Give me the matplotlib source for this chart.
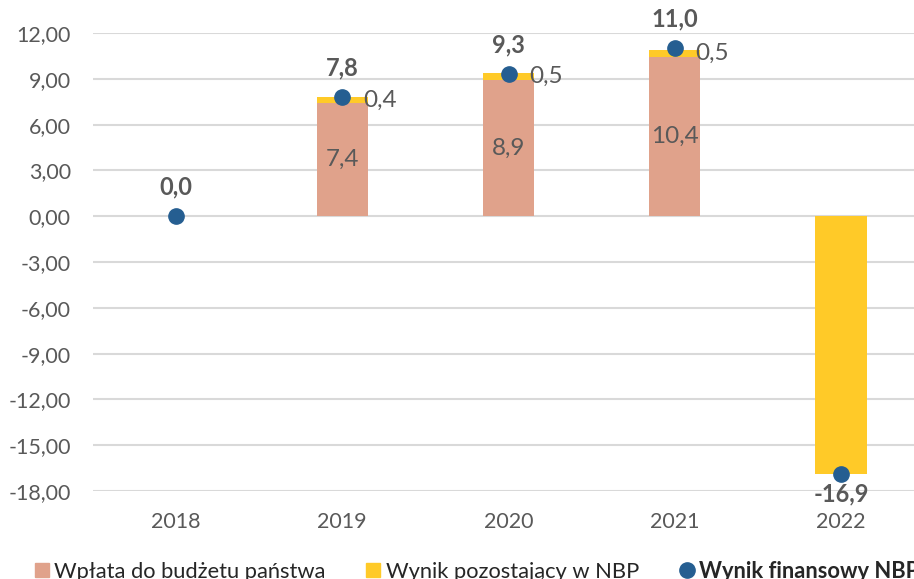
import matplotlib.pyplot as plt
from matplotlib.patches import Patch
from matplotlib.lines import Line2D
import numpy as np

# wynik finansowy NBP, mld zł
years = ["2018", "2019", "2020", "2021", "2022"]
wplata = [0.0, 7.4, 8.9, 10.4, 0.0]
pozostajacy = [0.0, 0.4, 0.5, 0.5, -16.9]
wynik = [0.0, 7.8, 9.3, 11.0, -16.9]
yticks = [-18, -15, -12, -9, -6, -3, 0, 3, 6, 9, 12]

c_wplata = "#E0A28B"
c_pozost = "#FFCA28"
c_wynik = "#255E91"
c_text = "#595959"

plt.rcParams["font.family"] = ["Lato", "DejaVu Sans"]

fig = plt.figure(figsize=(9.14, 5.79), dpi=100)
ax = fig.add_axes([93 / 914, 88 / 579, 831 / 914, 458 / 579])

x = np.arange(len(years))
w = 0.31
wpl = np.array(wplata)
poz = np.array(pozostajacy)
bottom = np.where(poz >= 0, wpl, 0)

ax.bar(x, wpl, width=w, color=c_wplata, zorder=2)
ax.bar(x, poz, width=w, bottom=bottom, color=c_pozost, zorder=2)
ax.plot(x, wynik, linestyle="none", marker="o", markersize=11,
        color=c_wynik, zorder=4)

fmt = lambda v: f"{v:.1f}".replace(".", ",")

for i in range(len(years)):
    if wpl[i] > 0:
        ax.text(x[i], wpl[i] / 2, fmt(wpl[i]), ha="center", va="center",
                fontsize=17.5, color=c_text, zorder=5)
    if poz[i] > 0:
        ax.text(x[i] + 0.125, bottom[i] + poz[i] / 2, fmt(poz[i]),
                ha="left", va="center", fontsize=17.5, color=c_text, zorder=5)
    off = 21 if wynik[i] >= 0 else -14
    ax.annotate(fmt(wynik[i]), (x[i], wynik[i]), xytext=(0, off),
                textcoords="offset points", ha="center", va="center",
                fontsize=17, fontweight="bold", color=c_text,
                annotation_clip=False, zorder=5)

ax.set_xlim(-0.5, len(years) - 0.5)
ax.set_ylim(-18, 12)
ax.set_yticks(yticks)
ax.set_yticklabels([f"{t:.2f}".replace(".", ",") for t in yticks])
ax.set_xticks(x)
ax.set_xticklabels(years)
ax.tick_params(axis="both", length=0, labelsize=15.5, labelcolor=c_text)
ax.tick_params(axis="y", pad=16)
ax.tick_params(axis="x", pad=15)
ax.grid(axis="y", color="#D9D9D9", linewidth=1.5, zorder=0)
for s in ax.spines.values():
    s.set_visible(False)

handles = [
    Patch(color=c_wplata),
    Patch(color=c_pozost),
    Line2D([], [], linestyle="none", marker="o", markersize=11, color=c_wynik),
]
labels = ["Wpłata do budżetu państwa", "Wynik pozostający w NBP", "Wynik finansowy NBP"]
leg = fig.legend(handles, labels, ncol=3, loc="center left",
                 bbox_to_anchor=(35 / 914, 1 - 571 / 579), frameon=False,
                 fontsize=15.75, handlelength=0.64, handleheight=0.64,
                 handletextpad=0.25, columnspacing=1.85, borderaxespad=0,
                 borderpad=0)
for t in leg.get_texts():
    t.set_color("#262626")
leg.get_texts()[2].set_fontweight("bold")

fig.savefig("out.png", dpi=100)
